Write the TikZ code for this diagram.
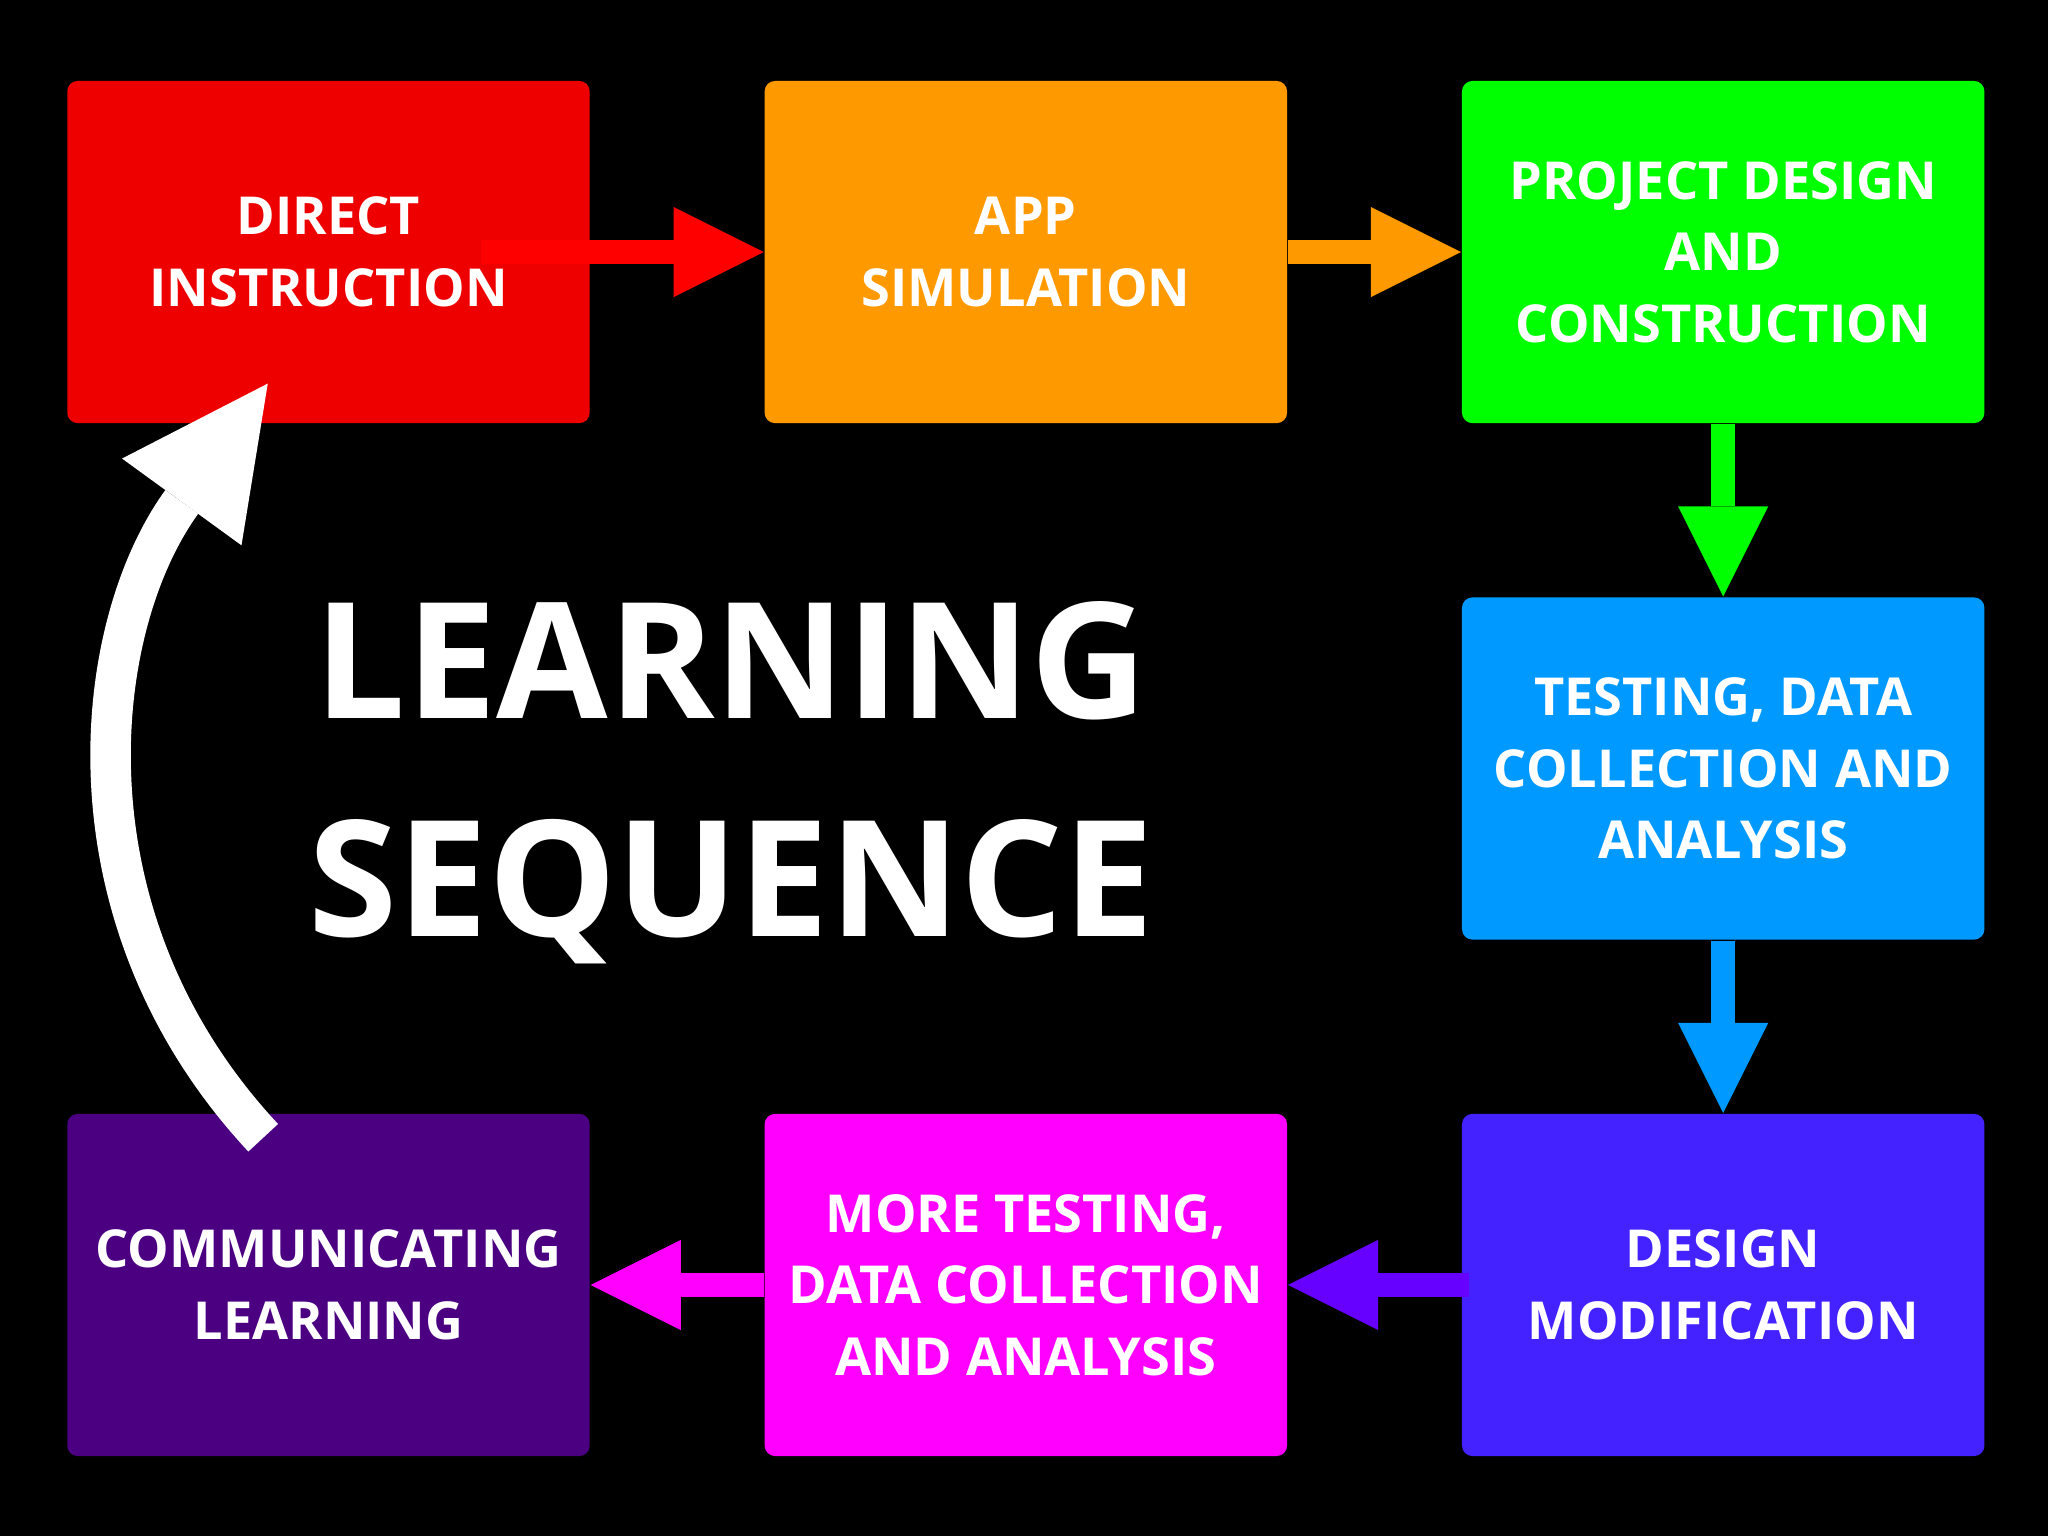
\documentclass[tikz,border=0pt]{standalone}
\usepackage{fontspec}
\setmainfont{Open Sans}
\usetikzlibrary{positioning,arrows.meta}

\definecolor{boxred}{HTML}{EE0000}
\definecolor{arrred}{HTML}{FF0000}
\definecolor{boxorange}{HTML}{FF9900}
\definecolor{boxgreen}{HTML}{00FF00}
\definecolor{boxblue}{HTML}{0099FF}
\definecolor{boxindigo}{HTML}{4422FF}
\definecolor{arrindigo}{HTML}{6600FF}
\definecolor{boxmagenta}{HTML}{FF00FF}
\definecolor{boxpurple}{HTML}{4B0082}

\tikzset{
  stage/.style={rounded corners=0.08cm, minimum width=4cm, minimum height=2.62cm,
    inner sep=0pt, align=center, text=white, font=\bfseries\fontsize{11.4}{15.6}\selectfont},
  flow/.style={line width=0.18cm, -{Triangle[length=0.69cm, width=0.69cm, line width=0pt]}}
}

\begin{document}
\begin{tikzpicture}[x=1cm, y=1cm]

    \fill[black] (0,0) rectangle (15.68,11.76);
    \useasboundingbox (0,0) rectangle (15.68,11.76);

    % top row
    \node[stage, fill=boxred] (direct) at (2.515,9.83) {DIRECT\\INSTRUCTION};
    \node[stage, fill=boxorange, right=1.325cm of direct] (app) {APP\\SIMULATION};
    \node[stage, fill=boxgreen, right=1.325cm of app] (project) {PROJECT DESIGN\\AND\\CONSTRUCTION};

    % right column and bottom row
    \node[stage, fill=boxblue, below=1.32cm of project] (testing) {TESTING, DATA\\COLLECTION AND\\ANALYSIS};
    \node[stage, fill=boxindigo, below=1.32cm of testing] (modify) {DESIGN\\MODIFICATION};
    \node[stage, fill=boxmagenta, left=1.325cm of modify] (retest) {MORE TESTING,\\DATA COLLECTION\\AND ANALYSIS};
    \node[stage, fill=boxpurple, left=1.325cm of retest] (comm) {COMMUNICATING\\LEARNING};

    \node[text=white, font=\bfseries\fontsize{35.2}{47.5}\selectfont, align=center] (title) at (5.6,5.77) {LEARNING\\SEQUENCE};

    \draw[flow, arrred] ([xshift=1.165cm]direct.center) -- (app.west);
    \draw[flow, boxorange] (app.east) -- (project.west);
    \draw[flow, boxgreen] (project.south) -- (testing.north);
    \draw[flow, boxblue] (testing.south) -- (modify.north);
    \draw[flow, arrindigo] ([xshift=0.06cm]modify.west) -- (retest.east);
    \draw[flow, boxmagenta] (retest.west) -- (comm.east);

    \draw[white, line width=0.31cm, -{Triangle[length=1.12cm, width=1.13cm, line width=0pt]}]
        ([xshift=-0.5cm, yshift=-0.19cm]comm.north) to[out=133, in=234, looseness=1.02]
        ([xshift=-0.465cm, yshift=0.31cm]direct.south);

\end{tikzpicture}
\end{document}
